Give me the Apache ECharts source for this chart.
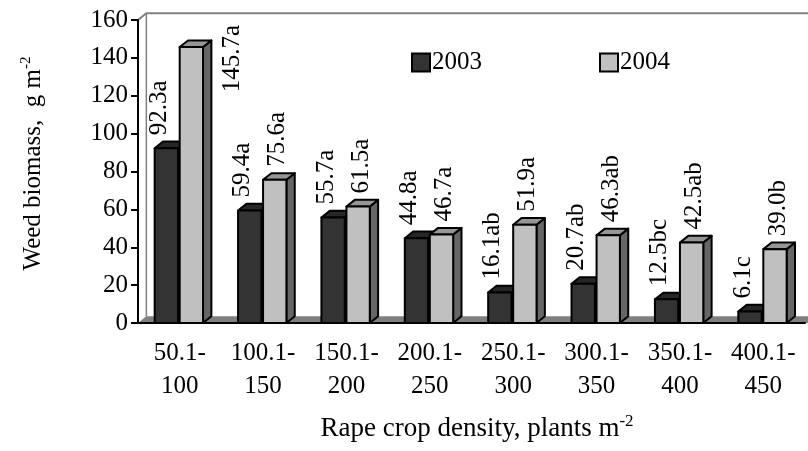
<!DOCTYPE html>
<html>
<head>
<meta charset="utf-8">
<script src="https://cdn.jsdelivr.net/npm/echarts@6/dist/echarts.min.js"></script>
<style>
  html, body { margin: 0; padding: 0; background: #fff; }
  #chart { width: 808px; height: 451px; }
</style>
</head>
<body>
<div id="chart"></div>
<script>
// density classes (plants m-2)
var categories = ['50.1-\n100', '100.1-\n150', '150.1-\n200', '200.1-\n250',
                  '250.1-\n300', '300.1-\n350', '350.1-\n400', '400.1-\n450'];
var biomass2003 = [92.3, 59.4, 55.7, 44.8, 16.1, 20.7, 12.5, 6.1];
var biomass2004 = [145.7, 75.6, 61.5, 46.7, 51.9, 46.3, 42.5, 39.0];
var labels2003 = ['92.3a', '59.4a', '55.7a', '44.8a', '16.1ab', '20.7ab', '12.5bc', '6.1c'];
var labels2004 = ['145.7a', '75.6a', '61.5a', '46.7a', '51.9a', '46.3ab', '42.5ab', '39.0b'];
var yMin = 0, yMax = 160, yStep = 20;

var FONT = '"Liberation Serif", "Times New Roman", serif';
var measureCtx = document.createElement('canvas').getContext('2d');
measureCtx.font = '25px ' + FONT;

var dom = document.getElementById('chart');
var myChart = echarts.init(dom);

function depth(band) {
  return [band * 0.1, -band * 0.08];
}

function barRenderer(labels, colors, offFrac, labelShift) {
  return function (params, api) {
    var i = api.value(0), v = api.value(1);
    var p = api.coord([i, v]);
    var b = api.coord([i, 0]);
    var band = api.size([1, 0])[0];
    var w = band * 0.28;
    var d = depth(band);
    var x0 = p[0] + band * offFrac;
    var ty = p[1], by = b[1];
    var edge = { stroke: '#000', lineWidth: 2, lineJoin: 'round' };

    var side = {
      type: 'polygon',
      shape: { points: [[x0 + w, ty], [x0 + w + d[0], ty + d[1]], [x0 + w + d[0], by + d[1]], [x0 + w, by]] },
      style: Object.assign({ fill: colors.side }, edge)
    };
    var top = {
      type: 'polygon',
      shape: { points: [[x0, ty], [x0 + d[0], ty + d[1]], [x0 + w + d[0], ty + d[1]], [x0 + w, ty]] },
      style: Object.assign({ fill: colors.top }, edge)
    };
    var front = {
      type: 'rect',
      shape: { x: x0, y: ty, width: w, height: by - ty },
      style: Object.assign({ fill: colors.front }, edge)
    };

    var txt = labels[params.dataIndex];
    var tw = measureCtx.measureText(txt).width;
    var lx = x0 + w / 2 + labelShift;
    var ly = ty - 13;
    if (ly - tw < params.coordSys.y) {
      // no room above the bar: put it beside the bar, under the wall top
      lx = x0 + w + d[0] + 21;
      ly = params.coordSys.y + 5 + tw;
    }
    var label = {
      type: 'text',
      x: lx, y: ly,
      rotation: Math.PI / 2,
      style: { text: txt, font: '25px ' + FONT, fill: '#000', align: 'left', verticalAlign: 'middle' }
    };
    return { type: 'group', children: [side, top, front, label] };
  };
}

function frameRenderer(params, api) {
  var cs = params.coordSys;
  var band = api.size([1, 0])[0];
  var d = depth(band);
  var left = cs.x, topY = cs.y, bottom = cs.y + cs.height;
  var right = api.getWidth();
  var grey = '#808080';
  return {
    type: 'group',
    children: [
      { type: 'polygon',
        shape: { points: [[left, bottom], [left + d[0], bottom + d[1]], [right, bottom + d[1]], [right, bottom]] },
        style: { fill: grey } },
      { type: 'polyline',
        shape: { points: [[left, topY], [left + d[0], topY + d[1]], [right, topY + d[1]]] },
        style: { stroke: grey, lineWidth: 2, fill: null } },
      { type: 'line',
        shape: { x1: left + d[0], y1: topY + d[1], x2: left + d[0], y2: bottom + d[1] },
        style: { stroke: grey, lineWidth: 1.5 } }
    ]
  };
}

function pairs(values) {
  var out = [];
  for (var i = 0; i < values.length; ++i) out.push([i, values[i]]);
  return out;
}

var option = {
  animation: false,
  textStyle: { fontFamily: FONT },
  grid: { left: 138, right: 3, top: 20, bottom: 128 },
  legend: {
    left: 406, top: 45,
    itemWidth: 18, itemHeight: 18, itemGap: 117,
    icon: 'rect',
    itemStyle: { borderColor: '#000', borderWidth: 2 },
    textStyle: { fontSize: 25, fontFamily: FONT, color: '#000', padding: [0, 0, 0, -3] },
    data: [
      { name: '2003', itemStyle: { color: '#333333' } },
      { name: '2004', itemStyle: { color: '#c0c0c0' } }
    ]
  },
  xAxis: {
    type: 'category',
    data: categories,
    z: 5,
    name: 'Rape crop density, plants {s|m}{sup|-2}',
    nameLocation: 'middle',
    nameGap: 90,
    nameMoveOverlap: false,
    nameTextStyle: {
      fontSize: 27, fontFamily: FONT, color: '#000', padding: [0, 0, 0, 11],
      rich: {
        s: { fontSize: 27, fontFamily: FONT, color: '#000' },
        sup: { fontSize: 17, fontFamily: FONT, color: '#000', verticalAlign: 'top', padding: [0, 0, 14, 0] }
      }
    },
    axisLine: { lineStyle: { color: '#000', width: 2 } },
    axisTick: { length: 8, lineStyle: { color: '#000', width: 2 } },
    axisLabel: { interval: 0, margin: 14, fontSize: 25, lineHeight: 33, fontFamily: FONT, color: '#000' }
  },
  yAxis: {
    type: 'value',
    min: yMin, max: yMax, interval: yStep,
    z: 5,
    name: 'Weed biomass,  g {s|m}{sup|-2}',
    nameLocation: 'middle',
    nameGap: 90,
    nameTextStyle: {
      fontSize: 25, fontFamily: FONT, color: '#000', padding: [0, 0, 0, 16],
      rich: {
        s: { fontSize: 25, fontFamily: FONT, color: '#000' },
        sup: { fontSize: 15, fontFamily: FONT, color: '#000', verticalAlign: 'top', padding: [0, 0, 14, 0] }
      }
    },
    splitLine: { show: false },
    axisLine: { show: true, lineStyle: { color: '#000', width: 2 } },
    axisTick: { show: true, length: 7, lineStyle: { color: '#000', width: 2 } },
    axisLabel: { margin: 10, fontSize: 25, fontFamily: FONT, color: '#000' }
  },
  series: [
    {
      name: 'frame',
      type: 'custom',
      z: 1,
      silent: true,
      renderItem: frameRenderer,
      data: [[0, 0]]
    },
    {
      name: '2003',
      type: 'custom',
      z: 2,
      itemStyle: { color: '#333333' },
      renderItem: barRenderer(labels2003, { front: '#333333', top: '#262626', side: '#1a1a1a' }, -0.30, -7),
      data: pairs(biomass2003)
    },
    {
      name: '2004',
      type: 'custom',
      z: 3,
      itemStyle: { color: '#c0c0c0' },
      renderItem: barRenderer(labels2004, { front: '#c0c0c0', top: '#969696', side: '#666666' }, 0.0, 3),
      data: pairs(biomass2004)
    }
  ]
};

if (option && typeof option === 'object') {
  myChart.setOption(option, true);
}
</script>
</body>
</html>
